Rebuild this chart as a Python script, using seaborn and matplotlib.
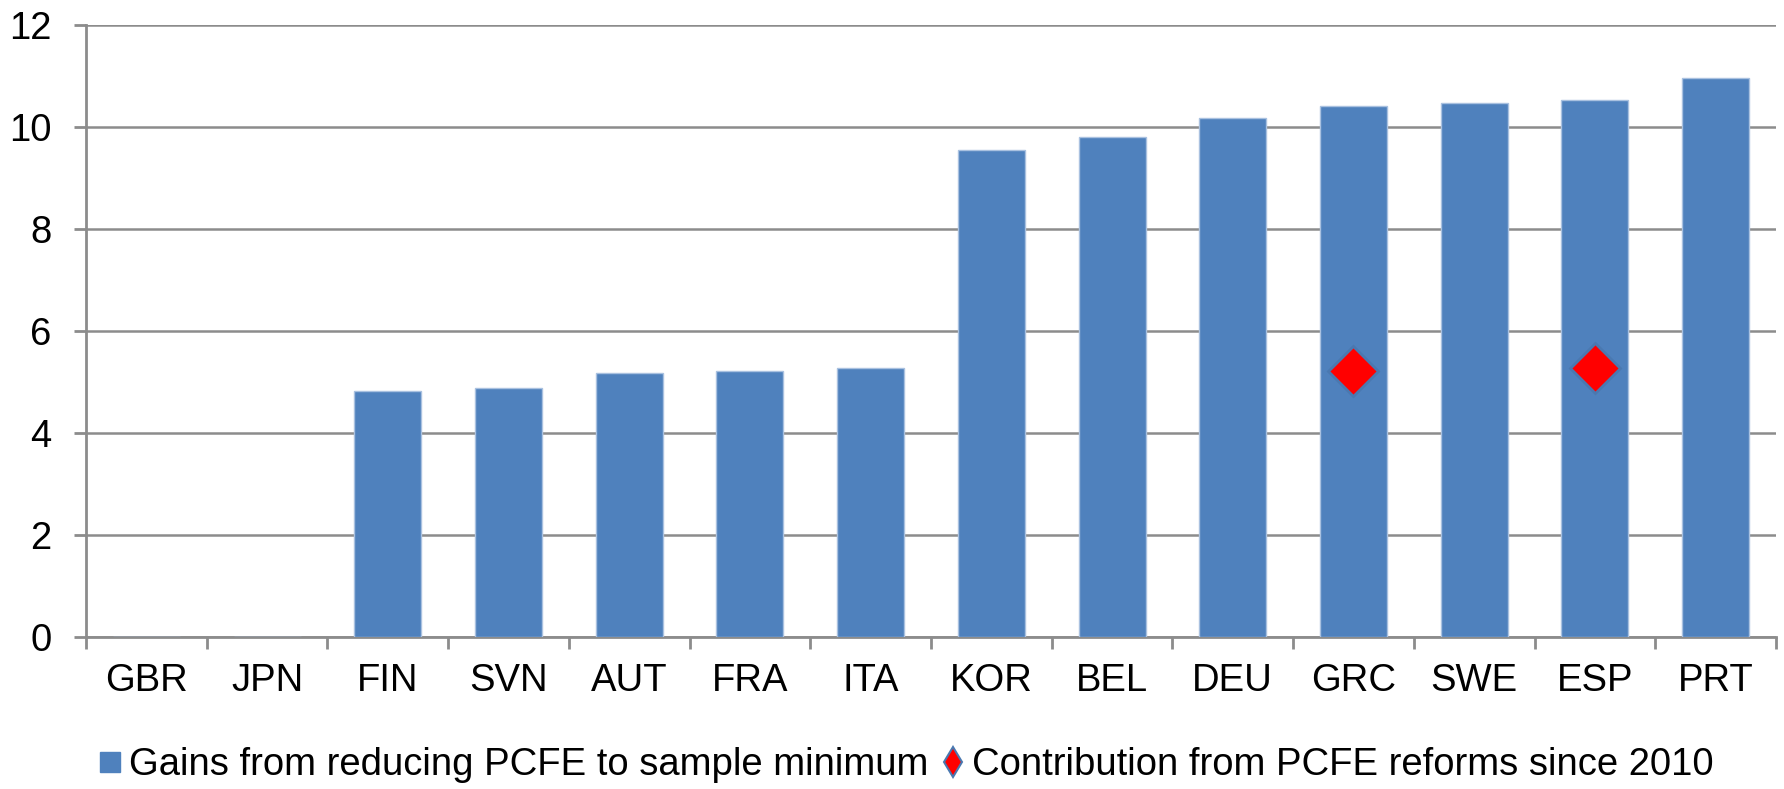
import numpy as np
import pandas as pd
import matplotlib
matplotlib.use("Agg")
import matplotlib.pyplot as plt
from matplotlib.lines import Line2D
from matplotlib.ticker import FixedLocator
import seaborn as sns

countries = ["GBR", "JPN", "FIN", "SVN", "AUT", "FRA", "ITA",
             "KOR", "BEL", "DEU", "GRC", "SWE", "ESP", "PRT"]
gains = [0.0, 0.0, 4.83, 4.88, 5.17, 5.21, 5.28,
         9.55, 9.80, 10.18, 10.42, 10.47, 10.53, 10.97]
reforms = [np.nan, np.nan, np.nan, np.nan, np.nan, np.nan, np.nan,
           np.nan, np.nan, np.nan, 5.21, np.nan, 5.28, np.nan]
y_ticks = [0, 2, 4, 6, 8, 10, 12]

label_gains = "Gains from reducing PCFE to sample minimum"
label_reforms = "Contribution from PCFE reforms since 2010"

BAR_BLUE = "#4F81BD"
GRID_GREY = "#8C8C8C"
DIAMOND_EDGE = "#4A78B0"

sns.set_theme(style="white")
plt.rcParams["font.family"] = ["Liberation Sans", "DejaVu Sans"]
plt.rcParams["text.color"] = "black"

df = pd.DataFrame({"country": countries, "gains": gains, "reforms": reforms})
df["pos"] = np.arange(len(countries))

fig = plt.figure(figsize=(17.84, 7.89), dpi=100)
ax = fig.add_axes([0.0482, 0.1926, 0.9473, 0.7757])

sns.barplot(data=df, x="country", y="gains", order=countries,
            color=BAR_BLUE, saturation=1, width=0.555,
            edgecolor="#A9C1E0", linewidth=1.0, ax=ax, zorder=3)

ax.plot(df["pos"], df["reforms"], ls="none", marker="D", markersize=25,
        markerfacecolor="#FF0000", markeredgecolor=DIAMOND_EDGE,
        markeredgewidth=2.0, zorder=4)

ax.set_xlim(-0.5, len(countries) - 0.5)
ax.set_ylim(0, 12)
ax.set_yticks(y_ticks)
ax.set_xlabel("")
ax.set_ylabel("")

# horizontal gridlines
ax.yaxis.grid(True, color=GRID_GREY, linewidth=1.8, zorder=0)
ax.xaxis.grid(False)
ax.set_axisbelow(True)

for side in ["top", "right"]:
    ax.spines[side].set_visible(False)
for side in ["left", "bottom"]:
    ax.spines[side].set_color(GRID_GREY)
    ax.spines[side].set_linewidth(2.0)

# category boundary tick marks on the x axis
ax.xaxis.set_minor_locator(FixedLocator(np.arange(-0.5, len(countries), 1.0)))
ax.tick_params(axis="x", which="minor", bottom=True, length=8.5, width=2.0,
               color=GRID_GREY)
ax.tick_params(axis="x", which="major", bottom=False, length=0,
               labelsize=27.5, pad=19, labelcolor="black")
ax.tick_params(axis="y", which="major", left=True, length=9, width=2.0,
               color=GRID_GREY, labelsize=27.5, pad=16, labelcolor="black")

handles = [
    Line2D([], [], ls="none", marker="s", markersize=14.5,
           markerfacecolor=BAR_BLUE, markeredgecolor=BAR_BLUE),
    Line2D([], [], ls="none", marker="d", markersize=15,
           markerfacecolor="#FF0000", markeredgecolor=DIAMOND_EDGE,
           markeredgewidth=1.5),
]
fig.legend(handles, [label_gains, label_reforms], loc="center",
           bbox_to_anchor=(0.5075, 0.030), ncol=2, frameon=False,
           fontsize=27.5, handlelength=0.7, handletextpad=0.15,
           columnspacing=0.3, borderpad=0, labelcolor="black")

fig.savefig("out.png", dpi=100)
